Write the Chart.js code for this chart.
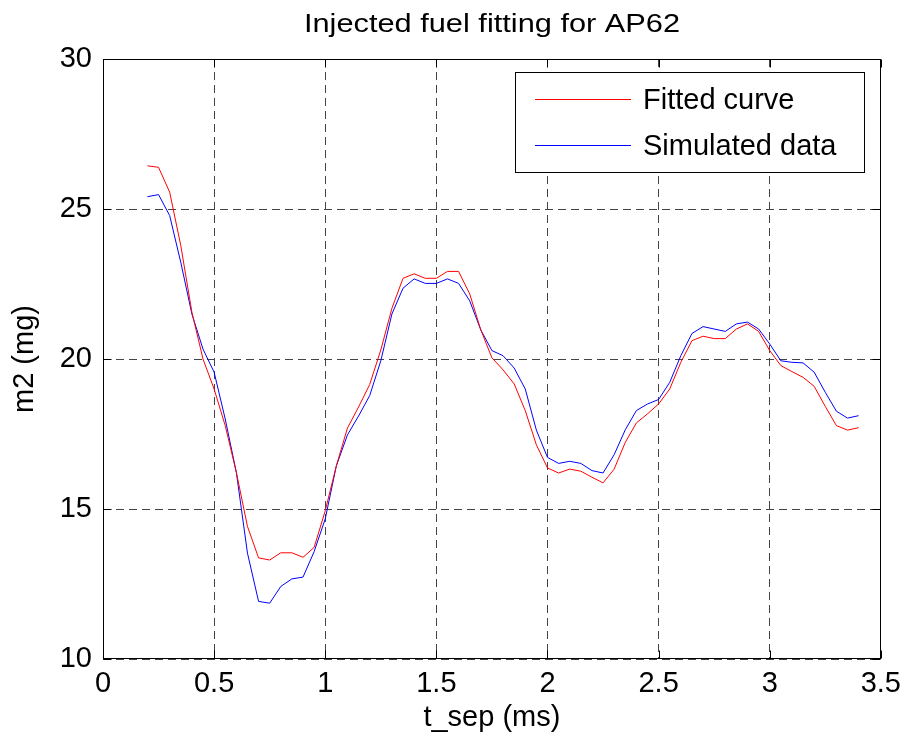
<!DOCTYPE html>
<html>
<head>
<meta charset="utf-8">
<script src="https://cdn.jsdelivr.net/npm/chart.js@4.4.1/dist/chart.umd.min.js"></script>
<style>
  html, body { margin: 0; padding: 0; background: #fff; }
  #wrap { width: 909px; height: 746px; position: relative; }
</style>
</head>
<body>
<div id="wrap"><canvas id="c" width="909" height="746"></canvas></div>
<script>
// ---- data ----
const tSep = [0.2,0.25,0.3,0.35,0.4,0.45,0.5,0.55,0.6,0.65,0.7,0.75,0.8,0.85,0.9,0.95,
  1.0,1.05,1.1,1.15,1.2,1.25,1.3,1.35,1.4,1.45,1.5,1.55,1.6,1.65,1.7,1.75,1.8,1.85,1.9,1.95,
  2.0,2.05,2.1,2.15,2.2,2.25,2.3,2.35,2.4,2.45,2.5,2.55,2.6,2.65,2.7,2.75,2.8,2.85,2.9,2.95,
  3.0,3.05,3.1,3.15,3.2,3.25,3.3,3.35,3.4];
const fittedCurve = [26.44,26.39,25.56,23.78,21.56,20.0,19.0,17.78,16.22,14.42,13.37,13.3,13.54,13.54,13.39,13.72,
  14.94,16.44,17.7,18.4,19.15,20.3,21.69,22.69,22.84,22.69,22.69,22.92,22.92,22.17,20.97,20.04,19.64,19.17,18.28,17.14,
  16.37,16.2,16.33,16.26,16.06,15.87,16.33,17.22,17.87,18.17,18.5,19.0,19.89,20.61,20.76,20.68,20.68,21.0,21.17,20.92,
  20.28,19.78,19.58,19.39,19.09,18.42,17.78,17.63,17.71];
const simulatedData = [25.41,25.48,24.78,23.22,21.5,20.33,19.56,18.0,16.22,13.53,11.92,11.86,12.42,12.67,12.73,13.58,
  14.67,16.44,17.47,18.1,18.78,19.94,21.5,22.36,22.67,22.52,22.52,22.67,22.52,21.94,20.97,20.28,20.11,19.7,19.0,17.63,
  16.72,16.52,16.59,16.52,16.28,16.2,16.81,17.64,18.28,18.5,18.65,19.22,20.11,20.85,21.08,21.0,20.92,21.17,21.23,21.0,
  20.5,19.94,19.89,19.87,19.56,18.89,18.26,18.03,18.11];
const xTicks = [0,0.5,1,1.5,2,2.5,3,3.5];
const yTicks = [10,15,20,25,30];
const seriesNames = ['Fitted curve','Simulated data'];
const titleText = 'Injected fuel fitting for AP62';
const xTitle = 't_sep (ms)';
const yTitle = 'm2 (mg)';

const FONT = '"Liberation Sans", Arial, Helvetica, sans-serif';
const colors = ['#ff0000', '#0000ff'];

function pts(ys) { return tSep.map((t, i) => ({ x: t, y: ys[i] })); }

const framePlugin = {
  id: 'frame',
  afterDatasetsDraw(chart) {
    const { ctx, chartArea: a, scales } = chart;
    ctx.save();
    ctx.strokeStyle = '#000';
    ctx.lineWidth = 1;
    ctx.setLineDash([]);
    const L = Math.round(a.left) + 0.5, R = Math.round(a.right) - 0.5;
    const T = Math.round(a.top) + 0.5, B = Math.round(a.bottom) - 0.5;
    ctx.strokeRect(L, T, R - L, B - T);
    const tl = 8;
    ctx.beginPath();
    xTicks.forEach(v => {
      const px = Math.round(scales.x.getPixelForValue(v)) + 0.5;
      ctx.moveTo(px, B); ctx.lineTo(px, B - tl);
      ctx.moveTo(px, T); ctx.lineTo(px, T + tl);
    });
    yTicks.forEach(v => {
      const py = Math.round(scales.y.getPixelForValue(v)) + 0.5;
      ctx.moveTo(L, py); ctx.lineTo(L + tl, py);
      ctx.moveTo(R, py); ctx.lineTo(R - tl, py);
    });
    ctx.stroke();
    ctx.restore();
  },
  afterDraw(chart) {
    const { ctx, chartArea: a } = chart;
    ctx.save();
    // title (slightly stretched horizontally like the reference)
    ctx.font = '25px ' + FONT;
    ctx.fillStyle = '#000';
    ctx.textAlign = 'center';
    ctx.textBaseline = 'middle';
    const sx = 1.23;
    ctx.translate(492, 25);
    ctx.scale(sx, 1);
    ctx.fillText(titleText, 0, 0);
    ctx.restore();

    // legend
    ctx.save();
    const bx = 515.5, by = 72.5, bw = 349, bh = 100;
    ctx.fillStyle = '#fff';
    ctx.fillRect(bx, by, bw, bh);
    ctx.strokeStyle = '#000';
    ctx.lineWidth = 1;
    ctx.strokeRect(bx, by, bw, bh);
    const rows = [99.5, 145.5];
    ctx.font = '29px ' + FONT;
    ctx.textAlign = 'left';
    ctx.textBaseline = 'middle';
    seriesNames.forEach((name, i) => {
      ctx.strokeStyle = colors[i];
      ctx.beginPath();
      ctx.moveTo(535, rows[i]);
      ctx.lineTo(631, rows[i]);
      ctx.stroke();
      ctx.fillStyle = '#000';
      ctx.fillText(name, 643, rows[i] + 1);
    });
    ctx.restore();
  }
};

new Chart(document.getElementById('c'), {
  type: 'line',
  data: {
    datasets: seriesNames.map((name, i) => ({
      label: name,
      data: pts(i === 0 ? fittedCurve : simulatedData),
      borderColor: colors[i],
      borderWidth: 1,
      pointRadius: 0,
      tension: 0,
      fill: false
    }))
  },
  options: {
    responsive: false,
    animation: false,
    devicePixelRatio: 1,
    layout: { padding: { top: 59, right: 27, left: 0, bottom: 0 } },
    plugins: {
      legend: { display: false },
      title: { display: false },
      tooltip: { enabled: false }
    },
    scales: {
      x: {
        type: 'linear',
        min: 0, max: 3.5,
        afterBuildTicks: s => { s.ticks = xTicks.map(v => ({ value: v })); },
        afterFit: s => { s.height = 87; },
        ticks: {
          font: { family: FONT, size: 29 },
          color: '#000',
          padding: 8,
          maxRotation: 0,
          autoSkip: false,
          callback: v => String(v)
        },
        grid: { color: '#444', lineWidth: 1, drawTicks: false },
        border: { display: false, dash: [8, 5] },
        title: {
          display: true, text: xTitle, color: '#000',
          font: { family: FONT, size: 29, lineHeight: 1.2 },
          padding: { top: 0, bottom: 11 }
        }
      },
      y: {
        type: 'linear',
        min: 10, max: 30,
        afterBuildTicks: s => { s.ticks = yTicks.map(v => ({ value: v })); },
        afterFit: s => { s.width = 103; },
        ticks: {
          font: { family: FONT, size: 29 },
          color: '#000',
          padding: 11,
          autoSkip: false,
          callback: v => String(v)
        },
        grid: { color: '#444', lineWidth: 1, drawTicks: false },
        border: { display: false, dash: [8, 5] },
        title: {
          display: true, text: yTitle, color: '#000',
          font: { family: FONT, size: 29, lineHeight: 1.2 },
          padding: { top: 8, bottom: 0 }
        }
      }
    }
  },
  plugins: [framePlugin]
});
</script>
</body>
</html>
